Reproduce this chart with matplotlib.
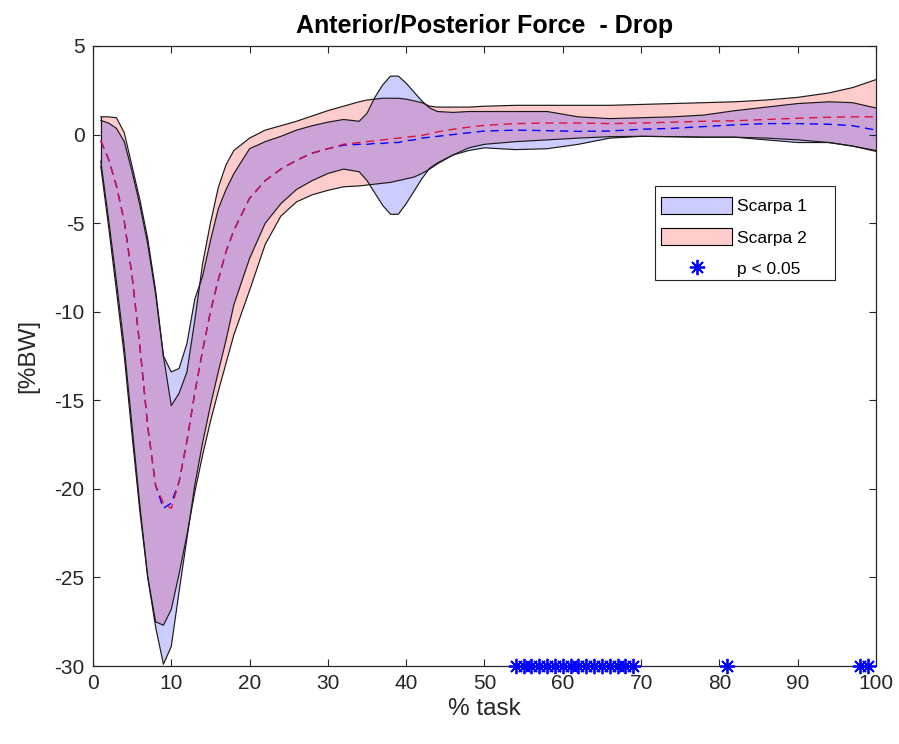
import matplotlib
matplotlib.use("Agg")
import matplotlib.pyplot as plt
from matplotlib.patches import Patch, Rectangle
from matplotlib.lines import Line2D
import numpy as np

plt.rcParams['font.family'] = ['Liberation Sans', 'DejaVu Sans']
plt.rcParams['axes.unicode_minus'] = False

# % task sample positions
x = [1, 2, 3, 4, 5, 6, 7, 8, 9, 10, 11, 12, 13, 14, 15, 16, 17, 18, 20, 22, 24, 26, 28, 30,
     32, 34, 35, 36, 37, 38, 39, 40, 41, 42, 43, 44, 46, 48, 50, 54, 58, 62, 66, 70, 74, 78,
     82, 86, 90, 94, 97, 100]

# Scarpa 1 (blue): upper, lower, mean
s1_upper = [0.8, 0.65, 0.35, -0.4, -2.1, -4.0, -6.2, -9.0, -12.5, -13.4, -13.2, -11.8, -9.3,
            -8.0, -6.0, -4.2, -3.1, -2.2, -0.8, -0.4, -0.1, 0.25, 0.5, 0.7,
            0.85, 0.75, 1.2, 2.1, 2.8, 3.3, 3.3, 2.9, 2.4, 1.9, 1.5, 1.3, 1.25, 1.3, 1.3, 1.3,
            1.3, 1.0, 0.9, 0.95, 1.0, 1.1, 1.35, 1.55, 1.75, 1.85, 1.8, 1.5]
s1_lower = [-1.5, -4.8, -8.3, -12.0, -16.5, -21.0, -25.0, -27.8, -29.9, -28.9, -25.8, -22.8,
            -19.8, -17.4, -15.3, -13.4, -11.6, -9.6, -7.0, -5.0, -3.9, -3.1, -2.6, -2.2,
            -1.95, -2.1, -2.6, -3.3, -4.0, -4.5, -4.5, -3.9, -3.2, -2.5, -1.9, -1.6, -1.15,
            -0.9, -0.75, -0.85, -0.8, -0.55, -0.2, -0.1, -0.12, -0.15, -0.15, -0.3, -0.45,
            -0.45, -0.65, -0.95]
s1_mean = [-0.35, -1.4, -2.9, -4.9, -8.0, -12.0, -16.5, -19.8, -21.1, -20.8, -19.6, -17.3,
           -14.6, -12.2, -10.0, -8.2, -6.6, -5.4, -3.6, -2.6, -1.95, -1.45, -1.05, -0.8,
           -0.6, -0.55, -0.55, -0.5, -0.5, -0.45, -0.45, -0.35, -0.3, -0.2, -0.15, -0.1, 0.0,
           0.1, 0.2, 0.25, 0.22, 0.18, 0.2, 0.3, 0.35, 0.45, 0.55, 0.62, 0.62, 0.58, 0.5, 0.25]

# Scarpa 2 (red): upper, lower, mean
s2_upper = [1.0, 1.0, 0.95, 0.1, -1.8, -3.7, -5.9, -8.8, -12.5, -15.3, -14.6, -13.4, -10.5,
            -7.3, -5.0, -3.0, -1.7, -0.9, -0.2, 0.25, 0.5, 0.75, 1.05, 1.35,
            1.6, 1.85, 1.95, 2.0, 2.05, 2.05, 2.05, 2.0, 1.9, 1.8, 1.6, 1.55, 1.55, 1.55, 1.6,
            1.65, 1.65, 1.65, 1.65, 1.7, 1.75, 1.8, 1.85, 1.95, 2.1, 2.35, 2.65, 3.1]
s2_lower = [-1.8, -5.2, -8.8, -12.5, -17.0, -21.3, -25.0, -27.5, -27.7, -26.8, -24.8, -22.6,
            -20.2, -18.1, -16.2, -14.5, -12.9, -11.3, -8.8, -6.2, -4.6, -3.8, -3.4, -3.15,
            -2.95, -2.9, -2.85, -2.8, -2.75, -2.7, -2.6, -2.5, -2.4, -2.2, -1.95, -1.65, -1.15,
            -0.75, -0.55, -0.4, -0.3, -0.2, -0.12, -0.1, -0.12, -0.15, -0.15, -0.2, -0.3,
            -0.45, -0.65, -0.9]
s2_mean = [-0.35, -1.4, -2.9, -4.9, -8.0, -12.0, -16.5, -19.8, -20.8, -21.1, -19.6, -17.3,
           -14.6, -12.2, -10.0, -8.2, -6.6, -5.4, -3.6, -2.6, -1.95, -1.45, -1.05, -0.8,
           -0.55, -0.45, -0.4, -0.35, -0.3, -0.25, -0.2, -0.15, -0.1, -0.05, 0.05, 0.15, 0.3,
           0.42, 0.52, 0.62, 0.65, 0.65, 0.62, 0.65, 0.7, 0.75, 0.78, 0.85, 0.92, 0.98, 1.0, 1.0]

# significant points (p < 0.05)
sig_x = [54, 55, 56, 57, 58, 59, 60, 61, 62, 63, 64, 65, 66, 67, 68, 69, 81, 98, 99]

labels = ['Scarpa 1', 'Scarpa 2', 'p < 0.05']

fig = plt.figure(figsize=(8.99, 7.44), dpi=100)
ax = fig.add_axes([0.1034, 0.1048, 0.871, 0.8334])

xs = np.array(x, dtype=float)
red_poly = np.concatenate([s2_upper, s2_lower[::-1]])
blue_poly = np.concatenate([s1_upper, s1_lower[::-1]])
px = np.concatenate([xs, xs[::-1]])

ax.fill(px, red_poly, facecolor=(1, 0, 0, 0.2), edgecolor='none', zorder=1)
ax.fill(px, blue_poly, facecolor=(0, 0, 1, 0.2), edgecolor='none', zorder=2)
for arr in (s2_upper, s2_lower, s1_upper, s1_lower):
    ax.plot(xs, arr, color=(0.1, 0.1, 0.1), lw=0.85, zorder=3)
ax.plot([xs[0], xs[0]], [s2_lower[0], s2_upper[0]], color=(0.1, 0.1, 0.1), lw=0.85, zorder=3)

ax.plot(xs, s1_mean, color=(0, 0, 1), lw=1.0, ls=(0, (6, 4)), zorder=4)
ax.plot(xs, s2_mean, color=(0.86, 0.08, 0.24), lw=1.0, ls=(0, (6, 4)), zorder=5)

ax.plot(sig_x, [-30] * len(sig_x), ls='none', marker=(8, 2, 0), ms=11, mew=1.3,
        color=(0, 0, 1), clip_on=False, zorder=10)

ax.set_xlim(0, 100)
ax.set_ylim(-30, 5)
ax.set_xticks(np.arange(0, 101, 10))
ax.set_yticks(np.arange(-30, 6, 5))
ax.tick_params(direction='in', length=5, width=0.8, top=True, right=True,
               labelsize=15, colors=(0.15, 0.15, 0.15), pad=6)
for s in ax.spines.values():
    s.set_color((0.15, 0.15, 0.15))
    s.set_linewidth(0.9)

ax.set_title('Anterior/Posterior Force  - Drop', fontsize=18, fontweight='bold', pad=9)
ax.set_xlabel('% task', fontsize=17.5, color=(0.15, 0.15, 0.15), labelpad=3)
ax.set_ylabel('[%BW]', fontsize=17.5, color=(0.15, 0.15, 0.15), labelpad=11)

# legend box (MATLAB style, with extra room on the right)
box = Rectangle((0.718, 0.623), 0.230, 0.151, transform=ax.transAxes, facecolor='white',
                edgecolor=(0.15, 0.15, 0.15), lw=0.8, zorder=20)
ax.add_patch(box)
handles = [Patch(facecolor=(0.8, 0.8, 1.0), edgecolor='k', lw=0.8),
           Patch(facecolor=(1.0, 0.8, 0.8), edgecolor='k', lw=0.8),
           Line2D([], [], ls='none', marker=(8, 2, 0), ms=11, mew=1.3, color=(0, 0, 1))]
leg = ax.legend(handles, labels, loc='upper left', bbox_to_anchor=(0.718, 0.766),
                fontsize=12.5, frameon=False, borderpad=0.35, handlelength=4.1,
                handleheight=1.1, handletextpad=0.25, labelspacing=0.8, borderaxespad=0)
leg.set_zorder(21)

fig.savefig('out.png', dpi=100)
